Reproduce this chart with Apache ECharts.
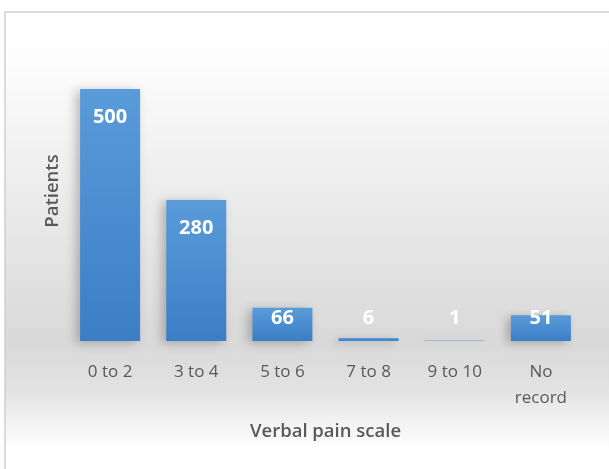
<!DOCTYPE html>
<html><head><meta charset="utf-8">
<script src="https://cdn.jsdelivr.net/npm/echarts@6/dist/echarts.min.js"></script>
<style>html,body{margin:0;padding:0;background:#fff}#c{width:609px;height:469px}</style>
</head><body><div id="c"></div>
<script>
const categories = ['0 to 2', '3 to 4', '5 to 6', '7 to 8', '9 to 10', 'No\nrecord'];
const patients = [500, 280, 66, 6, 1, 51];
const xTitle = 'Verbal pain scale';
const yTitle = 'Patients';

const chart = echarts.init(document.getElementById('c'), null, {renderer: 'canvas'});
const F = '"Open Sans", Lato, sans-serif';
const barColor = new echarts.graphic.LinearGradient(0, 0, 0, 1, [
  {offset: 0, color: '#5a9bd9'}, {offset: 1, color: '#3b7ec5'}]);

const data = patients.map(v => {
  const small = v < 120;
  return {
    value: v,
    label: small
      ? {position: 'insideBottom', distance: 13}
      : {position: 'insideTop', distance: 18}
  };
});

chart.setOption({
  animation: false,
  graphic: [{
    type: 'rect', z: -10, silent: true,
    shape: {x: 5, y: 12, width: 610, height: 470},
    style: {
      fill: new echarts.graphic.LinearGradient(0, 0, 0, 1, [
        {offset: 0, color: '#ffffff'},
        {offset: 0.1, color: '#fdfdfd'},
        {offset: 0.7, color: '#d9d9d9'},
        {offset: 0.8, color: '#e2e2e2'},
        {offset: 0.93, color: '#ffffff'},
        {offset: 1, color: '#ffffff'}]),
      stroke: '#d0d0d0', lineWidth: 1.5
    }
  }],
  grid: {left: 67, right: 25, top: 89, bottom: 128},
  xAxis: {
    type: 'category', data: categories,
    name: xTitle, nameLocation: 'middle', nameGap: 81,
    nameTextStyle: {color: '#595959', fontSize: 18.5, fontWeight: 600, fontFamily: F},
    axisLine: {show: false}, axisTick: {show: false},
    axisLabel: {color: '#595959', fontSize: 17, fontFamily: F, margin: 18, lineHeight: 26}
  },
  yAxis: {
    type: 'value', min: 0, max: 500, show: true,
    name: yTitle, nameLocation: 'middle', nameGap: 5, nameRotate: 90,
    nameTextStyle: {color: '#595959', fontSize: 18.5, fontWeight: 600, fontFamily: F, padding: [0, 0, 0, 48]},
    axisLine: {show: false}, axisTick: {show: false}, axisLabel: {show: false},
    splitLine: {show: false}
  },
  series: [{
    type: 'bar', data: data, barWidth: 60,
    itemStyle: {color: barColor, shadowColor: 'rgba(0,0,0,0.25)', shadowBlur: 10, shadowOffsetX: -4, shadowOffsetY: 2},
    label: {show: true, color: '#ffffff', fontSize: 20, fontWeight: 'bold', fontFamily: F}
  }]
});
</script></body></html>
